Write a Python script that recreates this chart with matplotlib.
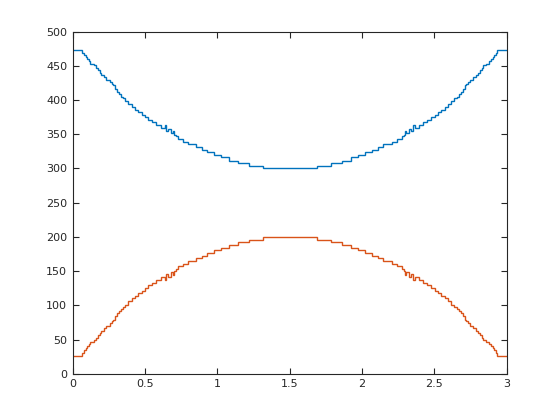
import matplotlib
matplotlib.use("Agg")
import matplotlib.pyplot as plt

# step edges (x) shared by both series
x_edges = [0.000, 0.065, 0.074, 0.088, 0.097, 0.109, 0.122, 0.145, 0.162, 0.171,
           0.185, 0.198, 0.215, 0.231, 0.254, 0.268, 0.281, 0.291, 0.305, 0.318,
           0.330, 0.345, 0.362, 0.383, 0.406, 0.429, 0.452, 0.475, 0.498, 0.521,
           0.549, 0.577, 0.609, 0.636, 0.646, 0.661, 0.676, 0.694, 0.701, 0.712,
           0.724, 0.761, 0.793, 0.853, 0.890, 0.931, 0.977, 1.026, 1.079, 1.141,
           1.217, 1.314,
           1.686, 1.783, 1.859, 1.921, 1.974, 2.023, 2.069, 2.110, 2.147, 2.207,
           2.239, 2.276, 2.288, 2.299, 2.306, 2.324, 2.339, 2.354, 2.364, 2.391,
           2.423, 2.451, 2.479, 2.502, 2.525, 2.548, 2.571, 2.594, 2.617, 2.638,
           2.655, 2.670, 2.682, 2.695, 2.709, 2.719, 2.732, 2.746, 2.769, 2.785,
           2.802, 2.815, 2.829, 2.838, 2.855, 2.878, 2.891, 2.903, 2.912, 2.926,
           2.935, 3.000]

blue_vals = [473.5, 469, 465, 463, 459.5, 457, 453, 450.5, 447, 444,
             440, 437, 433.5, 429.5, 426.5, 423.5, 421.5, 416, 411, 408,
             405, 402.5, 399, 394, 390, 386, 382.5, 378.5, 374.5, 370.5,
             367.5, 363.5, 359, 363, 354, 358, 351.5, 355, 349.5, 347,
             343, 339, 335, 331, 327.5, 323.5, 319, 316.5, 311.5, 307.5,
             304, 300,
             304, 307.5, 311.5, 316.5, 319, 323.5, 327.5, 331, 335, 339,
             343, 347, 349.5, 355, 351.5, 358, 354, 363, 359, 363.5,
             367.5, 370.5, 374.5, 378.5, 382.5, 386, 390, 394, 399, 402.5,
             405, 408, 411, 416, 421.5, 423.5, 426.5, 429.5, 433.5, 437,
             440, 444, 447, 450.5, 453, 457, 459.5, 463, 465, 469,
             473.5]

orange_vals = [26.5, 31, 35, 37, 40.5, 43, 47, 49.5, 53, 56,
               60, 63, 66.5, 70.5, 73.5, 76.5, 78.5, 84, 89, 92,
               95, 97.5, 101, 106, 110, 114, 117.5, 121.5, 125.5, 129.5,
               132.5, 136.5, 141, 137, 146, 142, 148.5, 145, 150.5, 153,
               157, 161, 165, 169, 172.5, 176.5, 181, 183.5, 188.5, 192.5,
               196, 200,
               196, 192.5, 188.5, 183.5, 181, 176.5, 172.5, 169, 165, 161,
               157, 153, 150.5, 145, 148.5, 142, 146, 137, 141, 136.5,
               132.5, 129.5, 125.5, 121.5, 117.5, 114, 110, 106, 101, 97.5,
               95, 92, 89, 84, 78.5, 76.5, 73.5, 70.5, 66.5, 63,
               60, 56, 53, 49.5, 47, 43, 40.5, 37, 35, 31,
               26.5]

x_ticks = [0, 0.5, 1, 1.5, 2, 2.5, 3]
x_ticklabels = ["0", "0.5", "1", "1.5", "2", "2.5", "3"]
y_ticks = [0, 50, 100, 150, 200, 250, 300, 350, 400, 450, 500]

fig = plt.figure(figsize=(5.6, 4.2), dpi=100)
ax = fig.add_axes([0.13, 0.11, 0.775, 0.815])

ax.stairs(blue_vals, x_edges, baseline=None, color="#0072BD", linewidth=1.0)
ax.stairs(orange_vals, x_edges, baseline=None, color="#D95319", linewidth=1.0)

ax.set_xlim(0, 3)
ax.set_ylim(0, 500)
ax.set_xticks(x_ticks)
ax.set_xticklabels(x_ticklabels)
ax.set_yticks(y_ticks)

axcol = "#262626"
for s in ax.spines.values():
    s.set_color(axcol)
    s.set_linewidth(0.8)
ax.tick_params(direction="in", length=4, width=0.8, colors=axcol,
               labelsize=8, top=True, right=True, pad=4)
for lab in ax.get_xticklabels() + ax.get_yticklabels():
    lab.set_color("#262626")

fig.savefig("out.png", dpi=100)
